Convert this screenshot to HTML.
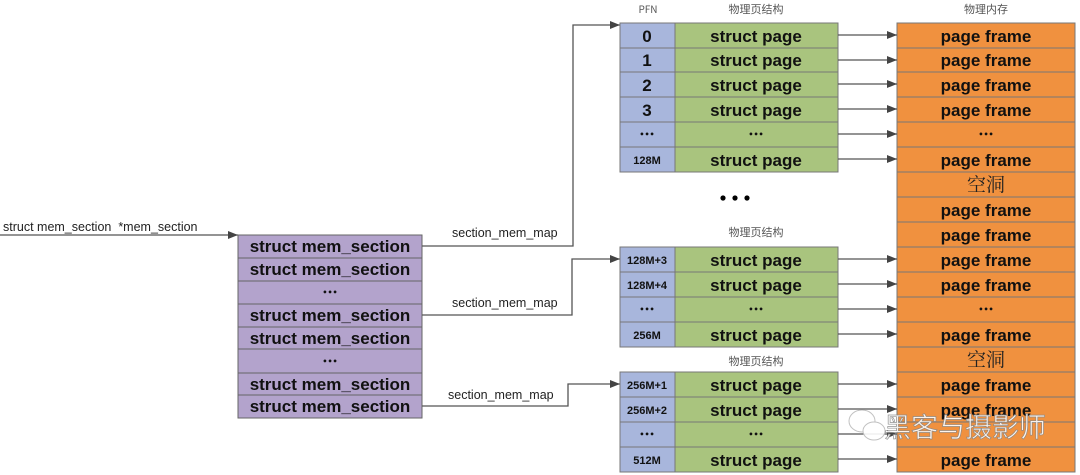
<!DOCTYPE html>
<html><head><meta charset="utf-8"><style>
html,body{margin:0;padding:0;background:#fff;width:1080px;height:475px;overflow:hidden}
svg{display:block}
.b{font-family:"Liberation Sans","Noto Sans CJK SC",sans-serif;font-weight:bold;fill:#111}
.n{font-family:"Liberation Sans","Noto Sans CJK SC",sans-serif;fill:#222}
.c{font-family:"Noto Sans CJK SC","WenQuanYi Zen Hei",sans-serif;fill:#555}
.d{font-family:"DejaVu Sans",sans-serif;font-weight:bold;fill:#111}
</style></head><body>
<svg width="1080" height="475" viewBox="0 0 1080 475" xmlns="http://www.w3.org/2000/svg">
<defs><marker id="a" markerWidth="10" markerHeight="8" refX="10" refY="4" orient="auto" markerUnits="userSpaceOnUse"><path d="M0,0 L10,4 L0,8 z" fill="#444"/></marker></defs>

<text class="c" x="648" y="13" font-size="10" text-anchor="middle">PFN</text>
<text class="c" x="756" y="13" font-size="11" text-anchor="middle">物理页结构</text>
<text class="c" x="986" y="13" font-size="11" text-anchor="middle">物理内存</text>
<text class="c" x="756" y="236" font-size="11" text-anchor="middle">物理页结构</text>
<text class="c" x="756" y="365" font-size="11" text-anchor="middle">物理页结构</text>

<text class="n" x="3" y="231" font-size="12.5">struct mem_section&#160;&#160;*mem_section</text>
<line x1="0" y1="235" x2="238" y2="235" stroke="#555" stroke-width="1.3" marker-end="url(#a)"/>

<g stroke="#666" stroke-width="1" fill="#b3a3cc">
<rect x="238" y="235" width="184" height="23"/><rect x="238" y="258" width="184" height="23"/>
<rect x="238" y="281" width="184" height="23"/><rect x="238" y="304" width="184" height="23"/>
<rect x="238" y="327" width="184" height="22"/><rect x="238" y="349" width="184" height="24"/>
<rect x="238" y="373" width="184" height="22"/><rect x="238" y="395" width="184" height="23"/>
</g>
<g class="b" font-size="17" text-anchor="middle">
<text x="330" y="252">struct mem_section</text><text x="330" y="275">struct mem_section</text>
<text x="330" y="321">struct mem_section</text>
<text x="330" y="344">struct mem_section</text>
<text x="330" y="390">struct mem_section</text><text x="330" y="412">struct mem_section</text>
</g>
<g class="d" font-size="8" text-anchor="middle">
<text x="330" y="295">•••</text><text x="330" y="364">•••</text>
</g>

<g stroke="#555" stroke-width="1.3" fill="none">
<polyline points="422,246 573,246 573,25 620,25" marker-end="url(#a)"/>
<polyline points="422,315 572,315 572,259 620,259" marker-end="url(#a)"/>
<polyline points="422,406 568,406 568,384 620,384" marker-end="url(#a)"/>
</g>
<g class="n" font-size="12.5">
<text x="452" y="237">section_mem_map</text>
<text x="452" y="307">section_mem_map</text>
<text x="448" y="399">section_mem_map</text>
</g>

<g stroke="#777" stroke-width="1">
<g fill="#a8b6dc">
<rect x="620" y="23" width="55" height="25"/><rect x="620" y="48" width="55" height="24"/><rect x="620" y="72" width="55" height="25"/><rect x="620" y="97" width="55" height="25"/><rect x="620" y="122" width="55" height="25"/><rect x="620" y="147" width="55" height="25"/>
<rect x="620" y="247" width="55" height="25"/><rect x="620" y="272" width="55" height="25"/><rect x="620" y="297" width="55" height="25"/><rect x="620" y="322" width="55" height="25"/>
<rect x="620" y="372" width="55" height="25"/><rect x="620" y="397" width="55" height="25"/><rect x="620" y="422" width="55" height="25"/><rect x="620" y="447" width="55" height="25"/>
</g>
<g fill="#a9c47e">
<rect x="675" y="23" width="163" height="25"/><rect x="675" y="48" width="163" height="24"/><rect x="675" y="72" width="163" height="25"/><rect x="675" y="97" width="163" height="25"/><rect x="675" y="122" width="163" height="25"/><rect x="675" y="147" width="163" height="25"/>
<rect x="675" y="247" width="163" height="25"/><rect x="675" y="272" width="163" height="25"/><rect x="675" y="297" width="163" height="25"/><rect x="675" y="322" width="163" height="25"/>
<rect x="675" y="372" width="163" height="25"/><rect x="675" y="397" width="163" height="25"/><rect x="675" y="422" width="163" height="25"/><rect x="675" y="447" width="163" height="25"/>
</g>
<g fill="#f0913f">
<rect x="897" y="23" width="178" height="25"/><rect x="897" y="48" width="178" height="24"/><rect x="897" y="72" width="178" height="25"/><rect x="897" y="97" width="178" height="25"/><rect x="897" y="122" width="178" height="25"/><rect x="897" y="147" width="178" height="25"/>
<rect x="897" y="172" width="178" height="25"/><rect x="897" y="197" width="178" height="25"/><rect x="897" y="222" width="178" height="25"/><rect x="897" y="247" width="178" height="25"/><rect x="897" y="272" width="178" height="25"/><rect x="897" y="297" width="178" height="25"/><rect x="897" y="322" width="178" height="25"/><rect x="897" y="347" width="178" height="25"/><rect x="897" y="372" width="178" height="25"/><rect x="897" y="397" width="178" height="25"/><rect x="897" y="422" width="178" height="25"/><rect x="897" y="447" width="178" height="25"/>
</g>
</g>

<g class="b" text-anchor="middle" fill="#111">
<text x="647" y="42" font-size="17">0</text><text x="647" y="66" font-size="17">1</text><text x="647" y="91" font-size="17">2</text><text x="647" y="116" font-size="17">3</text>
<text x="647" y="164" font-size="11">128M</text>
<text x="647" y="264" font-size="11">128M+3</text><text x="647" y="289" font-size="11">128M+4</text><text x="647" y="339" font-size="11">256M</text>
<text x="647" y="389" font-size="11">256M+1</text><text x="647" y="414" font-size="11">256M+2</text><text x="647" y="464" font-size="11">512M</text>
</g>
<g class="d" font-size="8" text-anchor="middle">
<text x="647" y="137">•••</text><text x="647" y="312">•••</text><text x="647" y="437">•••</text>
<text x="756" y="137">•••</text><text x="756" y="312">•••</text><text x="756" y="437">•••</text>
<text x="986" y="137">•••</text><text x="986" y="312">•••</text>
</g>
<g class="b" font-size="17" text-anchor="middle">
<text x="756" y="42">struct page</text><text x="756" y="66">struct page</text><text x="756" y="91">struct page</text><text x="756" y="116">struct page</text><text x="756" y="166">struct page</text>
<text x="756" y="266">struct page</text><text x="756" y="291">struct page</text><text x="756" y="341">struct page</text>
<text x="756" y="391">struct page</text><text x="756" y="416">struct page</text><text x="756" y="466">struct page</text>
</g>
<g class="b" font-size="17" text-anchor="middle">
<text x="986" y="42">page frame</text><text x="986" y="66">page frame</text><text x="986" y="91">page frame</text><text x="986" y="116">page frame</text><text x="986" y="166">page frame</text>
<text x="986" y="216">page frame</text><text x="986" y="241">page frame</text><text x="986" y="266">page frame</text><text x="986" y="291">page frame</text><text x="986" y="341">page frame</text>
<text x="986" y="391">page frame</text><text x="986" y="416">page frame</text><text x="986" y="466">page frame</text>
</g>
<g font-family="'Noto Serif CJK SC','Noto Sans CJK SC',serif" font-size="19" text-anchor="middle" fill="#222">
<text x="986" y="191">空洞</text><text x="986" y="366">空洞</text>
</g>

<g stroke="#555" stroke-width="1.3" marker-end="url(#a)">
<line x1="838" y1="35" x2="897" y2="35"/><line x1="838" y1="60" x2="897" y2="60"/><line x1="838" y1="84" x2="897" y2="84"/><line x1="838" y1="109" x2="897" y2="109"/><line x1="838" y1="134" x2="897" y2="134"/><line x1="838" y1="159" x2="897" y2="159"/>
<line x1="838" y1="259" x2="897" y2="259"/><line x1="838" y1="284" x2="897" y2="284"/><line x1="838" y1="309" x2="897" y2="309"/><line x1="838" y1="334" x2="897" y2="334"/>
<line x1="838" y1="384" x2="897" y2="384"/><line x1="838" y1="409" x2="897" y2="409"/><line x1="838" y1="434" x2="897" y2="434"/><line x1="838" y1="459" x2="897" y2="459"/>
</g>

<circle cx="723" cy="198" r="2.6" fill="#000"/><circle cx="735" cy="198" r="2.6" fill="#000"/><circle cx="747" cy="198" r="2.6" fill="#000"/>

<g opacity="0.9">
<ellipse cx="862" cy="421" rx="13" ry="11" fill="#fff" stroke="#bbb"/>
<ellipse cx="874" cy="431" rx="11" ry="9" fill="#fff" stroke="#bbb"/>
<text x="884" y="437" font-family="'Noto Sans CJK SC',sans-serif" font-size="27" fill="#fff" stroke="#888" stroke-width="0.7">黑客与摄影师</text>
</g>
</svg>
</body></html>
